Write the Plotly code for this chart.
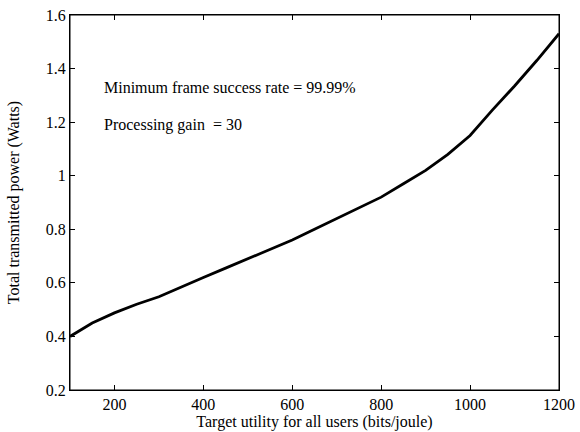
import plotly.graph_objects as go

utility = [100, 150, 200, 250, 300, 350, 400, 450, 500, 550, 600, 650, 700,
           750, 800, 850, 900, 950, 1000, 1050, 1100, 1150, 1200]
power = [0.40, 0.45, 0.488, 0.52, 0.548, 0.585, 0.62, 0.655, 0.69, 0.725, 0.76,
         0.80, 0.84, 0.88, 0.92, 0.97, 1.02, 1.08, 1.15, 1.245, 1.335, 1.43, 1.53]
x_ticks = [200, 400, 600, 800, 1000, 1200]
y_ticks = [0.2, 0.4, 0.6, 0.8, 1.0, 1.2, 1.4, 1.6]
y_labels = ["0.2", "0.4", "0.6", "0.8", "1", "1.2", "1.4", "1.6"]

font = "Times New Roman"

fig = go.Figure()
fig.add_trace(go.Scatter(x=utility, y=power, mode="lines",
                         line=dict(color="black", width=2.8), showlegend=False))

fig.add_annotation(x=0.065, y=1.33, xref="paper", yref="y", xanchor="left",
                   text="Minimum frame success rate = 99.99%", showarrow=False,
                   font=dict(family=font, size=16, color="black"))
fig.add_annotation(x=0.065, y=1.19, xref="paper", yref="y", xanchor="left",
                   text="Processing gain&nbsp; = 30", showarrow=False,
                   font=dict(family=font, size=16, color="black"))

# frame around the plotting area
fig.add_shape(type="rect", xref="paper", yref="paper", x0=0, y0=0, x1=1, y1=1,
              line=dict(color="black", width=1), layer="above")

axis_common = dict(showline=True, linecolor="black", linewidth=1, mirror="ticks",
                   ticks="inside", ticklen=5, tickcolor="black", tickwidth=1,
                   showgrid=False, zeroline=False,
                   tickfont=dict(family=font, size=16, color="black"))

fig.update_xaxes(range=[100, 1200], tickvals=x_ticks,
                 title=dict(text="Target utility for all users (bits/joule)",
                            font=dict(family=font, size=16, color="black"), standoff=0),
                 **axis_common)
fig.update_yaxes(range=[0.2, 1.6], tickvals=y_ticks, ticktext=y_labels,
                 title=dict(text="Total transmitted power (Watts)",
                            font=dict(family=font, size=16, color="black"), standoff=22),
                 **axis_common)

fig.update_layout(width=580, height=432, margin=dict(l=70, r=21, t=15, b=42, autoexpand=False),
                  plot_bgcolor="white", paper_bgcolor="white", font=dict(family=font))

fig.write_html("out.html", config={"displayModeBar": False},
               post_script="document.body.style.margin='0px';document.body.style.overflow='hidden';")
